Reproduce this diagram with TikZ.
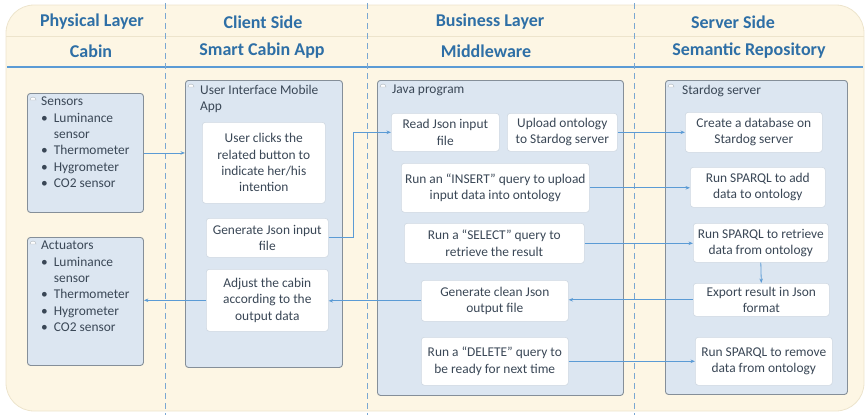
\documentclass[tikz,border=0pt]{standalone}
\usepackage{fontspec}
\setmainfont{Carlito}
\usetikzlibrary{arrows.meta}
\definecolor{bgcream}{HTML}{FDF6E4}
\definecolor{bgedge}{HTML}{EDE4CC}
\definecolor{headblue}{HTML}{2E6FA6}
\definecolor{lineblue}{HTML}{5B9BD5}
\definecolor{dashblue}{HTML}{7AA7D2}
\definecolor{contfill}{HTML}{DCE6F1}
\definecolor{contedge}{HTML}{858F99}
\definecolor{wedge}{HTML}{CFD8E2}
\definecolor{txt}{HTML}{3A4756}
\tikzset{
  cont/.style={draw=contedge, fill=contfill, line width=0.9pt, rounded corners=3pt, anchor=north west, inner sep=0pt},
  wbox/.style={draw=wedge, fill=white, line width=0.6pt, rounded corners=3pt, anchor=north west, inner sep=0pt, align=center, text=txt, font=\fontsize{13.4}{16.3}\selectfont},
  ctitle/.style={anchor=north west, inner sep=0pt, align=left, text=txt, font=\fontsize{13.4}{16.3}\selectfont},
  head/.style={text=headblue, font=\fontsize{18}{20}\selectfont\bfseries, inner sep=0pt},
  arr/.style={draw=lineblue, line width=0.8pt, -{Stealth[length=4.5pt,width=3.5pt]}},
  vdash/.style={draw=dashblue, line width=0.8pt, dash pattern=on 6pt off 4pt},
  cicon/.style={draw=contedge!70, fill=white, line width=0.4pt}
}
\newcommand{\bul}{\textbullet\hspace{6pt}}
\newcommand{\bulsp}{\phantom{\textbullet}\hspace{6pt}}
\begin{document}
\begin{tikzpicture}[x=1pt,y=-1pt]
\useasboundingbox (0,0) rectangle (868,415);
% background
\fill[bgcream, draw=bgedge, line width=0.8pt, rounded corners=28pt] (6,5) rectangle (864,411);
\draw[bgedge, line width=0.8pt] (6,36) -- (864,36);
\draw[lineblue, line width=1.4pt] (7,67) -- (863,67);
% dashed separators
\draw[vdash] (165,3) -- (165,415);
\draw[vdash] (367,3) -- (367,415);
\draw[vdash] (634,3) -- (634,415);
% headers
\node[head] (h1a) at (92,22) {Physical Layer};
\node[head] (h2a) at (263,22) {Client Side};
\node[head] (h3a) at (490,22) {Business Layer};
\node[head] (h4a) at (733,22) {Server Side};
\node[head] (h1b) at (91,51) {Cabin};
\node[head] (h2b) at (262,51) {Smart Cabin App};
\node[head] (h3b) at (486,51) {Middleware};
\node[head] (h4b) at (749,51) {Semantic Repository};
% containers
\node[cont, minimum width=116, minimum height=119] (sensors) at (27,93) {};
\node[cont, minimum width=116, minimum height=128] (actuators) at (27,237) {};
\node[cont, minimum width=157, minimum height=287] (ui) at (185,80) {};
\node[cont, minimum width=246, minimum height=315] (java) at (377,80) {};
\node[cont, minimum width=182, minimum height=314] (stardog) at (665,80) {};
% container icons
\foreach \n in {sensors,actuators,ui,java,stardog}{
  \fill[cicon] ([shift={(3,7)}]\n.north west) arc[start angle=180,end angle=0,radius=3pt] -- cycle;
}
% container titles
\node[ctitle] (sensorstxt) at (41,97) {Sensors\\\bul Luminance\\\bulsp sensor\\\bul Thermometer\\\bul Hygrometer\\\bul CO2 sensor};
\node[ctitle] (actuatorstxt) at (41,241) {Actuators\\\bul Luminance\\\bulsp sensor\\\bul Thermometer\\\bul Hygrometer\\\bul CO2 sensor};
\node[ctitle] (uitxt) at (200,85) {User Interface Mobile\\App};
\node[ctitle] (javatxt) at (392,85) {Java program};
\node[ctitle] (stardogtxt) at (682,85) {Stardog server};
% client boxes
\node[wbox, minimum width=123, minimum height=81] (clicks) at (202,122) {User clicks the\\related button to\\indicate her/his\\intention};
\node[wbox, minimum width=122, minimum height=39] (gen) at (206,218) {Generate Json input\\file};
\node[wbox, minimum width=122, minimum height=62] (adjust) at (206,269) {Adjust the cabin\\according to the\\output data};
% middleware boxes
\node[wbox, minimum width=108, minimum height=38] (read) at (391,113) {Read Json input\\file};
\node[wbox, minimum width=110, minimum height=38] (upload) at (507,113) {Upload ontology\\to Stardog server};
\node[wbox, minimum width=188, minimum height=49] (insert) at (401,163) {Run an “INSERT” query to upload\\input data into ontology};
\node[wbox, minimum width=180, minimum height=40] (select) at (404,223) {Run a “SELECT” query to\\retrieve the result};
\node[wbox, minimum width=147, minimum height=41] (clean) at (421,280) {Generate clean Json\\output file};
\node[wbox, minimum width=147, minimum height=48] (delete) at (421,337) {Run a “DELETE” query to\\be ready for next time};
% server boxes
\node[wbox, minimum width=137, minimum height=40] (create) at (685,112) {Create a database on\\Stardog server};
\node[wbox, minimum width=135, minimum height=40] (add) at (690,167) {Run SPARQL to add\\data to ontology};
\node[wbox, minimum width=135, minimum height=39] (retrieve) at (693,223) {Run SPARQL to retrieve\\data from ontology};
\node[wbox, minimum width=136, minimum height=33] (export) at (693,283) {Export result in Json\\format};
\node[wbox, minimum width=137, minimum height=48] (remove) at (695,337) {Run SPARQL to remove\\data from ontology};
% connectors
\draw[arr] (sensors.east) -- (sensors.east -| ui.west);
\draw[arr] (gen.east) -- ++(25,0) |- (read.west);
\draw[arr] (upload.east) -- (upload.east -| create.west);
\draw[arr] (insert.east) -- (insert.east -| add.west);
\draw[arr] (select.east) -- (select.east -| retrieve.west);
\draw[arr] (retrieve.south) -- (export.north);
\draw[arr] (export.west) -- (export.west -| clean.east);
\draw[arr] (clean.west) -- (clean.west -| adjust.east);
\draw[arr] (adjust.west) -- (adjust.west -| actuators.east);
\draw[arr] (delete.east) -- (delete.east -| remove.west);
\end{tikzpicture}
\end{document}
